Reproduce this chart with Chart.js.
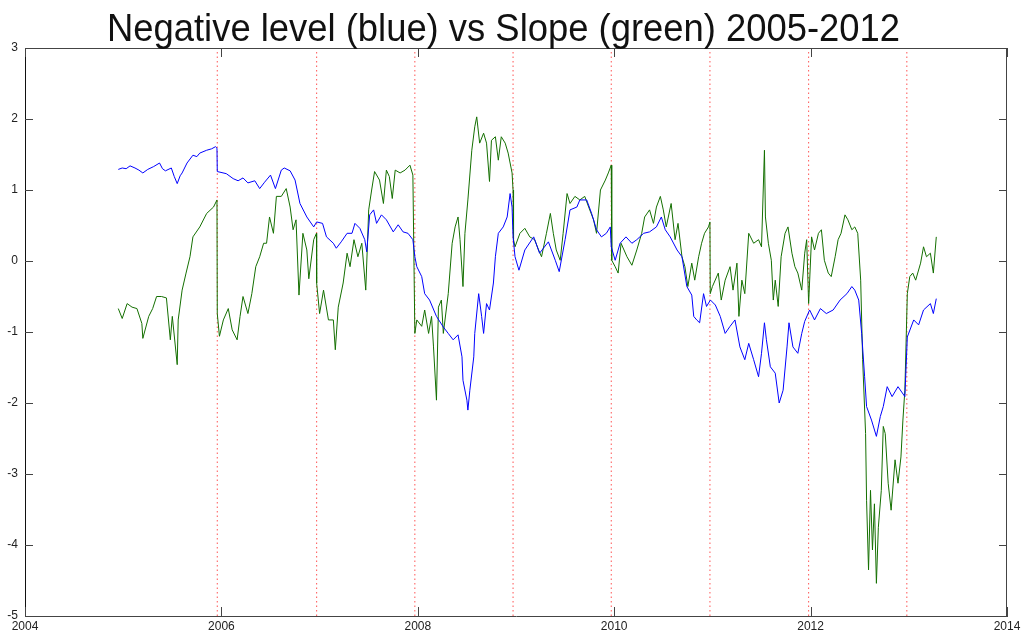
<!DOCTYPE html>
<html>
<head>
<meta charset="utf-8">
<script src="https://cdn.jsdelivr.net/npm/chart.js@4"></script>
<style>
  body { margin: 0; background: #fff; overflow: hidden; }
</style>
</head>
<body>
<canvas id="myChart" width="1027" height="634"></canvas>
<script>
// negative level (blue) - dates as decimal years
const levelDates = [2004.95, 2004.99, 2005.03, 2005.07, 2005.12, 2005.16, 2005.20, 2005.25, 2005.31, 2005.37,
  2005.40, 2005.43, 2005.49, 2005.52, 2005.55, 2005.58, 2005.60, 2005.65, 2005.71, 2005.75, 2005.78, 2005.85,
  2005.90, 2005.94, 2005.955, 2005.958, 2006.05, 2006.12, 2006.17, 2006.22, 2006.27, 2006.34, 2006.39, 2006.44,
  2006.50, 2006.55, 2006.61, 2006.64, 2006.70, 2006.75, 2006.80, 2006.87, 2006.94, 2006.97, 2007.03, 2007.07,
  2007.14, 2007.17, 2007.22, 2007.28, 2007.33, 2007.36, 2007.41, 2007.46, 2007.48, 2007.51, 2007.55, 2007.58,
  2007.63, 2007.68, 2007.75, 2007.80, 2007.85, 2007.90, 2007.95, 2007.97, 2007.99, 2008.04, 2008.07, 2008.12,
  2008.19, 2008.26, 2008.31, 2008.36, 2008.41, 2008.45, 2008.46, 2008.50, 2008.51, 2008.53, 2008.57, 2008.58,
  2008.62, 2008.65, 2008.67, 2008.70, 2008.73, 2008.77, 2008.79, 2008.82, 2008.87, 2008.91, 2008.94, 2008.96,
  2008.97, 2008.99, 2009.03, 2009.09, 2009.18, 2009.24, 2009.33, 2009.40, 2009.44, 2009.50, 2009.55, 2009.62,
  2009.65, 2009.72, 2009.77, 2009.82, 2009.87, 2009.92, 2009.96, 2009.97, 2010.01, 2010.06, 2010.12, 2010.18,
  2010.23, 2010.30, 2010.36, 2010.43, 2010.48, 2010.52, 2010.57, 2010.64, 2010.69, 2010.74, 2010.79, 2010.81,
  2010.84, 2010.87, 2010.91, 2010.94, 2010.98, 2011.03, 2011.08, 2011.13, 2011.18, 2011.23, 2011.28, 2011.33,
  2011.37, 2011.42, 2011.47, 2011.50, 2011.53, 2011.55, 2011.59, 2011.64, 2011.68, 2011.72, 2011.76, 2011.78,
  2011.82, 2011.87, 2011.91, 2011.94, 2011.99, 2012.04, 2012.10, 2012.16, 2012.23, 2012.30, 2012.37, 2012.42,
  2012.45, 2012.49, 2012.52, 2012.55, 2012.57, 2012.62, 2012.67, 2012.71, 2012.74, 2012.78, 2012.83, 2012.89,
  2012.96, 2012.985, 2013.05, 2013.10, 2013.15, 2013.22, 2013.25, 2013.28];
const levelValues = [1.29, 1.31, 1.30, 1.34, 1.31, 1.28, 1.24, 1.29, 1.33, 1.38,
  1.30, 1.27, 1.31, 1.19, 1.09, 1.20, 1.24, 1.38, 1.49, 1.47, 1.52, 1.56,
  1.58, 1.61, 1.59, 1.26, 1.23, 1.16, 1.13, 1.17, 1.10, 1.13, 1.02, 1.11,
  1.21, 1.02, 1.28, 1.31, 1.27, 1.14, 0.81, 0.62, 0.48, 0.55, 0.53, 0.34,
  0.25, 0.18, 0.27, 0.39, 0.39, 0.53, 0.46, 0.30, 0.13, 0.65, 0.72, 0.53,
  0.65, 0.58, 0.41, 0.51, 0.41, 0.39, 0.30, 0.06, -0.08, -0.22, -0.46, -0.55,
  -0.78, -0.93, -1.02, -1.11, -1.04, -1.35, -1.68, -1.96, -2.10, -1.82, -1.35, -1.02,
  -0.46, -0.78, -1.02, -0.60, -0.69, -0.31, 0.06, 0.39, 0.48, 0.62, 0.95, 0.76,
  0.34, 0.06, -0.13, 0.155, 0.34, 0.11, 0.27, 0.01, -0.15, 0.30, 0.72, 0.76,
  0.86, 0.86, 0.67, 0.44, 0.34, 0.39, 0.48, 0.20, 0.01, 0.25, 0.34, 0.25,
  0.30, 0.39, 0.41, 0.48, 0.62, 0.44, 0.34, 0.155, 0.06, -0.36, -0.48, -0.78,
  -0.83, -0.87, -0.46, -0.64, -0.55, -0.62, -0.78, -1.02, -0.92, -0.83, -1.21, -1.39,
  -1.16, -1.39, -1.63, -1.30, -0.87, -1.11, -1.49, -1.58, -2.00, -1.82, -1.21, -0.87,
  -1.21, -1.30, -1.02, -0.85, -0.69, -0.83, -0.67, -0.74, -0.69, -0.55, -0.46, -0.36,
  -0.41, -0.55, -1.02, -1.63, -2.05, -2.24, -2.47, -2.19, -2.05, -1.77, -1.91, -1.77,
  -1.91, -1.07, -0.83, -0.90, -0.69, -0.60, -0.74, -0.53];

// slope (green)
const slopeDates = [2004.95, 2004.99, 2005.04, 2005.09, 2005.14, 2005.19, 2005.20, 2005.26, 2005.30, 2005.34,
  2005.39, 2005.44, 2005.48, 2005.50, 2005.55, 2005.56, 2005.60, 2005.64, 2005.68, 2005.71, 2005.78, 2005.85,
  2005.92, 2005.955, 2005.958, 2005.98, 2006.02, 2006.07, 2006.11, 2006.16, 2006.19, 2006.22, 2006.27, 2006.31,
  2006.35, 2006.39, 2006.43, 2006.46, 2006.49, 2006.53, 2006.56, 2006.61, 2006.66, 2006.70, 2006.73, 2006.76,
  2006.79, 2006.83, 2006.87, 2006.89, 2006.94, 2006.968, 2006.97, 2007.00, 2007.04, 2007.09, 2007.14, 2007.16,
  2007.19, 2007.24, 2007.28, 2007.31, 2007.35, 2007.39, 2007.43, 2007.47, 2007.50, 2007.53, 2007.56, 2007.61,
  2007.65, 2007.68, 2007.71, 2007.74, 2007.77, 2007.82, 2007.87, 2007.92, 2007.95, 2007.97, 2007.99, 2008.04,
  2008.07, 2008.11, 2008.14, 2008.16, 2008.19, 2008.21, 2008.24, 2008.26, 2008.31, 2008.35, 2008.38, 2008.41,
  2008.43, 2008.46, 2008.48, 2008.51, 2008.55, 2008.58, 2008.60, 2008.63, 2008.67, 2008.70, 2008.73, 2008.75,
  2008.79, 2008.82, 2008.85, 2008.89, 2008.92, 2008.96, 2008.97, 2008.975, 2008.99, 2009.04, 2009.09, 2009.14,
  2009.19, 2009.23, 2009.26, 2009.31, 2009.35, 2009.38, 2009.41, 2009.45, 2009.48, 2009.52, 2009.55, 2009.60,
  2009.65, 2009.70, 2009.74, 2009.79, 2009.82, 2009.86, 2009.91, 2009.94, 2009.97, 2009.975, 2010.01, 2010.04,
  2010.07, 2010.13, 2010.18, 2010.23, 2010.28, 2010.31, 2010.36, 2010.40, 2010.43, 2010.47, 2010.50, 2010.53,
  2010.58, 2010.62, 2010.65, 2010.69, 2010.72, 2010.75, 2010.79, 2010.82, 2010.86, 2010.89, 2010.92, 2010.96,
  2010.975, 2010.978, 2011.00, 2011.06, 2011.09, 2011.13, 2011.18, 2011.21, 2011.25, 2011.27, 2011.30, 2011.33,
  2011.37, 2011.42, 2011.47, 2011.50, 2011.53, 2011.54, 2011.57, 2011.60, 2011.62, 2011.64, 2011.67, 2011.70,
  2011.74, 2011.77, 2011.81, 2011.84, 2011.87, 2011.91, 2011.94, 2011.96, 2011.98, 2012.01, 2012.04, 2012.08,
  2012.11, 2012.14, 2012.18, 2012.21, 2012.25, 2012.28, 2012.31, 2012.35, 2012.38, 2012.42, 2012.45, 2012.48,
  2012.51, 2012.53, 2012.56, 2012.57, 2012.59, 2012.61, 2012.63, 2012.65, 2012.67, 2012.69, 2012.72, 2012.74,
  2012.76, 2012.79, 2012.82, 2012.86, 2012.89, 2012.92, 2012.94, 2012.96, 2012.985, 2013.01, 2013.04, 2013.07,
  2013.12, 2013.15, 2013.18, 2013.22, 2013.25, 2013.28];
const slopeValues = [-0.67, -0.81, -0.60, -0.65, -0.67, -0.88, -1.09, -0.78, -0.67, -0.50,
  -0.50, -0.52, -1.11, -0.78, -1.46, -0.83, -0.41, -0.17, 0.06, 0.34, 0.48, 0.67,
  0.76, 0.86, -0.74, -1.06, -0.83, -0.67, -0.97, -1.11, -0.78, -0.50, -0.74, -0.46,
  -0.08, 0.06, 0.25, 0.25, 0.62, 0.39, 0.91, 0.91, 1.02, 0.76, 0.44, 0.58,
  -0.48, 0.39, 0.155, -0.25, 0.30, 0.39, -0.31, -0.74, -0.41, -0.83, -0.83, -1.25,
  -0.65, -0.31, 0.11, -0.08, 0.30, 0.06, 0.25, -0.41, 0.72, 1.00, 1.26, 1.14,
  0.81, 1.28, 1.19, 0.88, 1.28, 1.24, 1.28, 1.35, 1.21, -1.02, -0.83, -0.92,
  -0.69, -1.02, -0.78, -1.21, -1.96, -0.65, -0.55, -1.02, -0.46, 0.25, 0.48, 0.62,
  0.30, -0.36, 0.39, 0.86, 1.56, 1.89, 2.03, 1.66, 1.80, 1.66, 1.12, 1.70,
  1.75, 1.42, 1.75, 1.66, 1.52, 1.24, 1.00, 0.30, 0.20, 0.39, 0.46, 0.34,
  0.30, 0.155, 0.06, 0.39, 0.67, 0.39, 0.155, 0.01, 0.39, 0.95, 0.81, 0.91,
  0.86, 0.91, 0.76, 0.58, 0.39, 1.00, 1.14, 1.24, 1.35, 0.01, -0.08, -0.17,
  0.25, 0.06, -0.06, 0.155, 0.39, 0.62, 0.72, 0.53, 0.76, 0.91, 0.72, 0.48,
  0.81, 0.30, 0.53, 0.06, -0.08, -0.36, -0.03, -0.27, 0.06, 0.25, 0.39, 0.48,
  0.55, -0.46, -0.36, -0.17, -0.55, -0.27, -0.08, -0.41, -0.03, -0.78, -0.27, -0.46,
  0.39, 0.25, 0.30, 0.20, 1.56, 0.62, 0.25, 0.01, -0.55, -0.27, -0.64, 0.06,
  0.39, 0.48, 0.11, -0.08, -0.17, -0.41, 0.11, 0.30, -0.60, 0.34, 0.155, 0.39,
  0.44, 0.01, -0.17, -0.22, 0.06, 0.30, 0.39, 0.65, 0.58, 0.44, 0.48, 0.39,
  -0.27, -1.39, -2.43, -3.37, -4.35, -3.23, -4.07, -3.42, -4.54, -3.75, -3.23, -2.33,
  -2.43, -3.13, -3.51, -2.80, -3.13, -2.76, -2.24, -1.82, -0.46, -0.22, -0.17, -0.27,
  -0.03, 0.20, 0.06, 0.11, -0.17, 0.34];

// dotted year-end markers
const yearEnds = [2005.958, 2006.97, 2007.97, 2008.97, 2009.97, 2010.975, 2011.98, 2012.98];
const xTicks = [2004, 2006, 2008, 2010, 2012, 2014];
const yTicks = [-5, -4, -3, -2, -1, 0, 1, 2, 3];
const titleText = 'Negative level (blue) vs Slope (green) 2005-2012';

const toPoints = (xs, ys) => xs.map((x, i) => ({x: x, y: ys[i]}));

const markerSets = yearEnds.map(v => ({
  data: [{x: v, y: yTicks[0]}, {x: v, y: yTicks[yTicks.length - 1]}],
  borderColor: 'rgba(255, 40, 40, 0.8)',
  borderWidth: 1,
  borderDash: [1.5, 3],
  pointRadius: 0,
  order: 2
}));

// box, inward ticks and the title
const frame = {
  id: 'frame',
  afterDraw(chart) {
    const {ctx, chartArea: a, scales: {x, y}} = chart;
    ctx.save();
    ctx.strokeStyle = '#444';
    ctx.lineWidth = 1;
    ctx.beginPath();
    ctx.moveTo(a.left, a.top + 0.5); ctx.lineTo(a.right, a.top + 0.5);
    ctx.moveTo(a.right - 0.5, a.top); ctx.lineTo(a.right - 0.5, a.bottom);
    yTicks.forEach(v => {
      const py = Math.round(y.getPixelForValue(v)) + 0.5;
      ctx.moveTo(a.left, py); ctx.lineTo(a.left + 8, py);
      ctx.moveTo(a.right, py); ctx.lineTo(a.right - 8, py);
    });
    xTicks.forEach(v => {
      const px = Math.round(x.getPixelForValue(v)) + 0.5;
      ctx.moveTo(px, a.bottom); ctx.lineTo(px, a.bottom - 9);
      ctx.moveTo(px, a.top); ctx.lineTo(px, a.top + 9);
    });
    ctx.stroke();

    ctx.fillStyle = '#111';
    ctx.font = '38px "Liberation Sans", Arial, sans-serif';
    ctx.textBaseline = 'alphabetic';
    ctx.textAlign = 'left';
    const w = ctx.measureText(titleText).width;
    ctx.translate(107, 41);
    ctx.scale(793 / w, 1);
    ctx.fillText(titleText, 0, 0);
    ctx.restore();
  }
};

const ctx = document.getElementById('myChart');

new Chart(ctx, {
  type: 'line',
  data: {
    datasets: [{
      label: 'Negative level',
      data: toPoints(levelDates, levelValues),
      borderColor: '#0000ff',
      borderWidth: 1,
      pointRadius: 0,
      tension: 0,
      order: 0
    }, {
      label: 'Slope',
      data: toPoints(slopeDates, slopeValues),
      borderColor: '#146f00',
      borderWidth: 1,
      pointRadius: 0,
      tension: 0,
      order: 1
    }, ...markerSets]
  },
  options: {
    responsive: false,
    animation: false,
    layout: {padding: {top: 48, right: 20, left: 0, bottom: 0}},
    plugins: {
      legend: {display: false},
      tooltip: {enabled: false}
    },
    scales: {
      x: {
        type: 'linear',
        min: 2004,
        max: 2014,
        afterFit: s => { s.height = 18; },
        afterBuildTicks: s => { s.ticks = xTicks.map(v => ({value: v})); },
        ticks: {
          color: '#222',
          padding: 3,
          maxRotation: 0,
          autoSkip: false,
          font: {family: '"Liberation Sans", Arial', size: 12},
          callback: v => String(v)
        },
        grid: {drawOnChartArea: false, drawTicks: false},
        border: {display: true, color: '#444', width: 1}
      },
      y: {
        min: -5,
        max: 3,
        afterFit: s => { s.width = 25; },
        afterBuildTicks: s => { s.ticks = yTicks.map(v => ({value: v})); },
        ticks: {
          color: '#222',
          padding: 7,
          font: {family: '"Liberation Sans", Arial', size: 12}
        },
        grid: {drawOnChartArea: false, drawTicks: false},
        border: {display: true, color: '#111', width: 1}
      }
    }
  },
  plugins: [frame]
});
</script>
</body>
</html>
